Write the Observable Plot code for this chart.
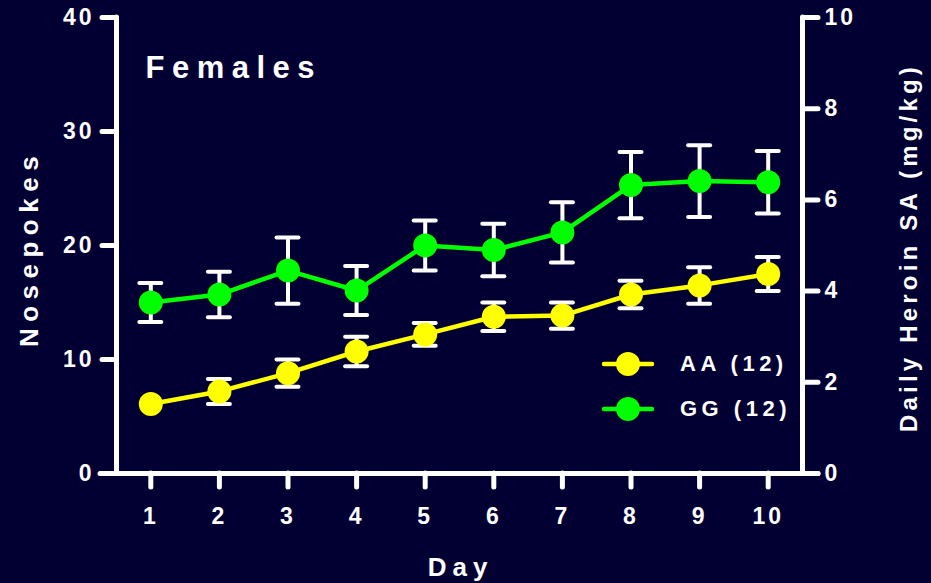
<!DOCTYPE html>
<html>
<head>
<meta charset="utf-8">
<script src="https://cdn.jsdelivr.net/npm/d3@7"></script>
<script src="https://cdn.jsdelivr.net/npm/@observablehq/plot@0.6"></script>
<style>
  html, body { margin: 0; padding: 0; background: #020033; }
  #chart { position: relative; width: 931px; height: 583px; overflow: hidden; }
  #chart svg text { font-family: "Liberation Sans", Arial, sans-serif; font-weight: bold; }
  .leg { position: absolute; height: 26px; display: flex; align-items: center; }
  .leg span { font-family: "Liberation Sans", Arial, sans-serif; font-weight: bold; font-size: 22px;
              letter-spacing: 4.5px; color: white; margin-left: 24px; white-space: nowrap; }
</style>
</head>
<body>
<div id="chart"></div>
<script>
// ---- data ----
const days = [1, 2, 3, 4, 5, 6, 7, 8, 9, 10];
const aaMean = [6.1, 7.2, 8.8, 10.7, 12.2, 13.75, 13.85, 15.7, 16.5, 17.5];
const aaSem  = [null, 1.1, 1.2, 1.3, 1.0, 1.25, 1.15, 1.2, 1.6, 1.5]; // day 1 bar hidden behind the dot
const ggMean = [15.0, 15.7, 17.8, 16.05, 20.0, 19.6, 21.15, 25.3, 25.65, 25.55];
const ggSem  = [1.7, 2.0, 2.9, 2.15, 2.2, 2.3, 2.65, 2.9, 3.15, 2.75];
const seriesNames = ["AA (12)", "GG (12)"];
const seriesColors = ["#ffff00", "#00ff00"];
const leftTicks = [0, 10, 20, 30, 40];
const rightTickLabels = [0, 2, 4, 6, 8, 10];

const means = [aaMean, ggMean];
const sems = [aaSem, ggSem];
const rows = [];
seriesNames.forEach((name, s) => {
  days.forEach((d, i) => {
    const e = sems[s][i];
    rows.push({group: name, color: seriesColors[s], day: d, mean: means[s][i], sem: e,
               lo: e == null ? null : means[s][i] - e, hi: e == null ? null : means[s][i] + e});
  });
});
const errRows = rows.filter(r => r.sem != null);

const lineMarks = seriesNames.map((name, s) =>
  Plot.line(rows.filter(r => r.group === name), {x: "day", y: "mean", stroke: seriesColors[s], strokeWidth: 4.5}));
const dotMarks = seriesNames.map((name, s) =>
  Plot.dot(rows.filter(r => r.group === name), {x: "day", y: "mean", r: 12, fill: seriesColors[s], stroke: "none"}));

const plot = Plot.plot({
  width: 931,
  height: 583,
  marginTop: 17,
  marginBottom: 110,
  marginLeft: 116,
  marginRight: 129,
  style: {background: "#020033", color: "white", fontSize: "23px"},
  x: {domain: [0.5, 10.5]},
  y: {domain: [0, 40]},
  marks: [
    Plot.axisX({ticks: days, tickSize: 14, tickPadding: 20, strokeWidth: 5, strokeLinecap: "round", tickFormat: d => String(d), label: null, fontSize: 23}),
    Plot.axisY({anchor: "left", ticks: leftTicks, tickSize: 14, tickPadding: 8, strokeWidth: 5, strokeLinecap: "round", label: null, fontSize: 23, tickFormat: d => String(d)}),
    Plot.axisY({anchor: "right", ticks: rightTickLabels.map(v => v * 4), tickSize: 15, tickPadding: 7, strokeWidth: 5, strokeLinecap: "round", label: null, fontSize: 23, tickFormat: d => String(d / 4)}),
    Plot.ruleX([0.5], {stroke: "white", strokeWidth: 5, strokeLinecap: "round"}),
    Plot.ruleX([10.5], {stroke: "white", strokeWidth: 5, strokeLinecap: "round"}),
    Plot.ruleY([0], {stroke: "white", strokeWidth: 5, strokeLinecap: "round", insetLeft: -16, insetRight: -16}),
    // error bars
    Plot.ruleX(errRows, {x: "day", y1: "lo", y2: "hi", stroke: "white", strokeWidth: 4}),
    Plot.ruleY(errRows, {x1: "day", x2: "day", y: "hi", insetLeft: -11, insetRight: -11, stroke: "white", strokeWidth: 4, strokeLinecap: "round"}),
    Plot.ruleY(errRows, {x1: "day", x2: "day", y: "lo", insetLeft: -11, insetRight: -11, stroke: "white", strokeWidth: 4, strokeLinecap: "round"}),
    ...lineMarks,
    ...dotMarks,
    // titles
    Plot.text(["Females"], {frameAnchor: "top-left", dx: 29, dy: 38, lineAnchor: "top", textAnchor: "start", fontSize: 31, fill: "white"}),
    Plot.text(["Nosepokes"], {frameAnchor: "left", dx: -87, dy: 3, rotate: -90, textAnchor: "middle", fontSize: 26, fill: "white"}),
    Plot.text(["Daily Heroin SA (mg/kg)"], {frameAnchor: "right", dx: 107, dy: 2, rotate: -90, textAnchor: "middle", fontSize: 24, fill: "white"}),
    Plot.text(["Day"], {frameAnchor: "bottom", dx: 1, dy: 102, textAnchor: "middle", fontSize: 26, fill: "white"})
  ]
});

// letter spacing like the original (applied after rendering)
const spacing = {"Females": "7.5px", "Nosepokes": "6.5px", "Daily Heroin SA (mg/kg)": "4.2px", "Day": "6px"};
d3.select(plot).selectAll("text").each(function() {
  const t = this.textContent;
  if (spacing[t]) this.style.letterSpacing = spacing[t];
  else if (/^\d+$/.test(t)) this.style.letterSpacing = "3px";
});

const chart = document.getElementById("chart");
chart.appendChild(plot);

// legend
seriesNames.forEach((name, s) => {
  const row = document.createElement("div");
  row.className = "leg";
  row.style.left = "600px";
  row.style.top = (364 + s * 45 - 13) + "px";
  row.innerHTML = `<svg width="56" height="26"><line x1="4" y1="13" x2="52" y2="13" stroke="${seriesColors[s]}" stroke-width="4.5" stroke-linecap="round"/><circle cx="28" cy="13" r="12" fill="${seriesColors[s]}"/></svg><span>${name}</span>`;
  chart.appendChild(row);
});
</script>
</body>
</html>
